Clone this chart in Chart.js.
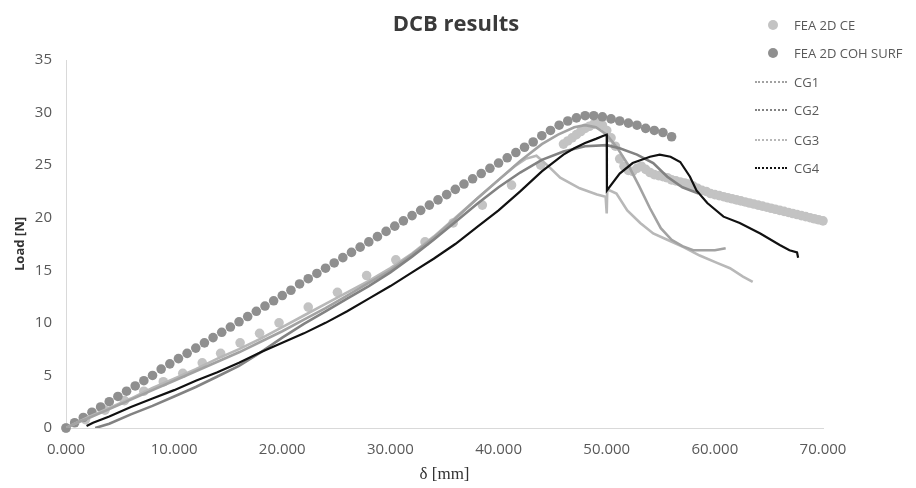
<!DOCTYPE html>
<html>
<head>
<meta charset="utf-8">
<script src="https://cdn.jsdelivr.net/npm/chart.js@4.4.1/dist/chart.umd.min.js"></script>
<style>
  html, body { margin: 0; padding: 0; background: #fff; }
  #wrap { position: relative; width: 916px; height: 488px; }
  #chart-title {
    position: absolute; left: 0; top: 7px; width: 912px; line-height: 30px;
    text-align: center; font: bold 22px "Open Sans", sans-serif; color: #3a3a3a;
  }
  .leg { position: absolute; left: 752px; height: 18px; line-height: 18px;
    font: 13px "Open Sans", sans-serif; color: #595959; white-space: nowrap; }
  .leg .dot { position: absolute; left: 16px; top: 4px; width: 10px; height: 10px; border-radius: 50%; }
  .leg .dash { position: absolute; left: 3px; top: 8px; width: 32px; border-top: 2px dotted; }
  .leg .txt { position: absolute; left: 42px; top: 0; }
</style>
</head>
<body>
<div id="wrap">
  <canvas id="c" width="916" height="488"></canvas>
  <div id="chart-title">DCB results</div>
  <div id="legend"></div>
</div>
<script>
// FEA 2D CE (sparse early, dense band after the peak)
const ceX = [0, 1.8, 3.6, 5.4, 7.2, 9.0, 10.8, 12.6, 14.3, 16.1, 17.9, 19.7, 22.4, 25.1, 27.8, 30.5, 33.2, 35.8, 38.5, 41.2, 43.9,
  46.0, 46.4, 46.8, 47.2, 47.6, 48.0, 48.4, 48.8, 49.2, 49.6, 50.0, 50.4, 50.8, 51.2, 51.6, 52.0, 52.4, 52.8, 53.2, 53.6,
  54.0, 54.4, 54.8, 55.2, 55.6, 56.0, 56.4, 56.8, 57.2, 57.6, 58.0, 58.4, 58.8, 59.2, 59.6, 60.0, 60.4, 60.8, 61.2, 61.6,
  62.0, 62.4, 62.8, 63.2, 63.6, 64.0, 64.4, 64.8, 65.2, 65.6, 66.0, 66.4, 66.8, 67.2, 67.6, 68.0, 68.4, 68.8, 69.2, 69.6, 70.0];
const ceLoad = [0, 0.8, 1.7, 2.6, 3.5, 4.4, 5.2, 6.2, 7.1, 8.1, 9.0, 10.0, 11.5, 12.9, 14.5, 16.0, 17.7, 19.5, 21.2, 23.1, 25.0,
  27.0, 27.3, 27.6, 27.9, 28.2, 28.5, 28.7, 28.9, 29.0, 28.8, 28.3, 27.6, 26.8, 25.6, 24.9, 24.5, 24.4, 24.7, 24.9, 24.6,
  24.3, 24.1, 24.0, 23.9, 23.8, 23.6, 23.5, 23.4, 23.3, 23.2, 23.0, 22.8, 22.6, 22.5, 22.3, 22.2, 22.1, 22.0, 21.9, 21.8,
  21.7, 21.6, 21.5, 21.4, 21.3, 21.2, 21.1, 21.0, 20.9, 20.8, 20.7, 20.6, 20.5, 20.4, 20.3, 20.2, 20.1, 20.0, 19.9, 19.8, 19.7];

// FEA 2D COH SURF
const cohX = [0, 0.8, 1.6, 2.4, 3.2, 4.0, 4.8, 5.6, 6.4, 7.2, 8.0, 8.8, 9.6, 10.4, 11.2, 12.0, 12.8, 13.6, 14.4, 15.2,
  16.0, 16.8, 17.6, 18.4, 19.2, 20.0, 20.8, 21.6, 22.4, 23.2, 24.0, 24.8, 25.6, 26.4, 27.2, 28.0, 28.8, 29.6, 30.4, 31.2,
  32.0, 32.8, 33.6, 34.4, 35.2, 36.0, 36.8, 37.6, 38.4, 39.2, 40.0, 40.8, 41.6, 42.4, 43.2, 44.0, 44.8, 45.6, 46.4, 47.2,
  48.0, 48.8, 49.6, 50.4, 51.2, 52.0, 52.8, 53.6, 54.4, 55.2, 56.0];
const cohLoad = [0, 0.5, 1.0, 1.5, 2.0, 2.5, 3.0, 3.5, 4.0, 4.5, 5.0, 5.6, 6.1, 6.6, 7.1, 7.6, 8.1, 8.6, 9.1, 9.6,
  10.1, 10.6, 11.1, 11.6, 12.1, 12.6, 13.1, 13.7, 14.2, 14.7, 15.2, 15.7, 16.2, 16.7, 17.2, 17.7, 18.2, 18.7, 19.2, 19.7,
  20.2, 20.7, 21.2, 21.7, 22.2, 22.7, 23.2, 23.7, 24.2, 24.7, 25.2, 25.7, 26.2, 26.7, 27.2, 27.8, 28.3, 28.8, 29.2, 29.5,
  29.7, 29.7, 29.6, 29.4, 29.2, 29.0, 28.8, 28.5, 28.3, 28.1, 27.7];

// experimental curves
const cg1X = [0, 1, 2, 4, 6, 8, 10, 12, 14, 16, 18, 20, 22, 24, 26, 28, 30, 32, 34, 36, 38, 40, 42, 44, 45.5, 47, 48, 49, 50,
  51, 52, 53, 54, 55, 56, 57, 58, 59, 60, 61];
const cg1Load = [0, 0.5, 0.9, 1.8, 2.7, 3.6, 4.5, 5.4, 6.3, 7.2, 8.2, 9.2, 10.3, 11.4, 12.6, 13.8, 15.0, 16.5, 18.1, 19.9, 21.8, 23.6, 25.4, 27.0, 27.9, 28.6, 28.8, 28.6, 27.9,
  26.6, 25.0, 23.0, 20.9, 19.0, 17.9, 17.3, 16.9, 16.9, 16.9, 17.1];

const cg2X = [2.7, 4, 6, 8, 10, 12, 14, 16, 18, 20, 22, 24, 26, 28, 30, 32, 34, 36, 38, 40, 42, 44, 46, 48, 50,
  51.2, 52.8, 54.3, 55.6, 57, 58.5];
const cg2Load = [0, 0.4, 1.3, 2.1, 3.0, 3.9, 4.9, 5.9, 7.2, 8.6, 9.9, 11.1, 12.3, 13.5, 14.8, 16.3, 17.9, 19.6, 21.3, 22.9, 24.3, 25.5, 26.3, 26.8, 26.9,
  26.6, 26.0, 25.2, 23.9, 22.9, 22.3];

const cg3X = [0, 1, 2, 4, 6, 8, 10, 12, 14, 16, 18, 20, 22, 24, 26, 28, 30, 32, 34, 36, 38, 40, 41.5, 42.5, 43.5, 44.5, 45.7,
  47.5, 49.1, 49.9, 50.0, 50.05, 50.9, 51.9, 53.1, 54.3, 55.6, 57.1, 58.6, 60.2, 61.4, 62.6, 63.5];
const cg3Load = [0, 0.5, 1.0, 1.9, 2.8, 3.8, 4.7, 5.6, 6.6, 7.5, 8.5, 9.6, 10.7, 11.8, 12.9, 14.0, 15.2, 16.6, 18.2, 20.0, 21.8, 23.6, 24.9, 25.6, 25.9, 25.0, 23.8,
  22.8, 22.2, 22.0, 20.4, 22.7, 22.3, 20.7, 19.5, 18.5, 17.9, 17.2, 16.4, 15.7, 15.2, 14.4, 13.9];

const cg4X = [1.9, 2.5, 4, 6, 8, 10, 12, 14, 16, 18, 20, 22, 24, 26, 28, 30, 32, 34, 36, 38, 40, 42, 44, 46, 47, 48, 49, 49.7,
  50.0, 50.02, 51.2, 52.4, 54, 54.9, 55.9, 56.8, 57.7, 58.3, 59.3, 60.8, 62.3, 64.2, 66, 66.9, 67.6, 67.7];
const cg4Load = [0.2, 0.5, 1.1, 2.0, 2.8, 3.6, 4.5, 5.3, 6.2, 7.2, 8.1, 9.0, 10.0, 11.1, 12.3, 13.5, 14.8, 16.1, 17.5, 19.1, 20.7, 22.5, 24.4, 26.0, 26.6, 27.1, 27.5, 27.8,
  27.9, 22.6, 24.2, 25.2, 25.8, 26.0, 25.8, 25.3, 23.9, 22.6, 21.4, 20.1, 19.5, 18.5, 17.4, 16.9, 16.7, 16.2];

const seriesNames = ["FEA 2D CE", "FEA 2D COH SURF", "CG1", "CG2", "CG3", "CG4"];
const seriesColors = ["#c3c3c3", "#8f8f8f", "#a2a2a2", "#828282", "#b8b8b8", "#111111"];

function pts(xs, ys) {
  return xs.map((x, i) => ({ x: x, y: ys[i] }));
}

function dotSet(i, xs, ys, order) {
  return {
    label: seriesNames[i], data: pts(xs, ys), showLine: false,
    pointRadius: 4.8, pointBackgroundColor: seriesColors[i], pointBorderWidth: 0,
    clip: false, order: order,
  };
}

function lineSet(i, xs, ys, order, width) {
  return {
    label: seriesNames[i], data: pts(xs, ys), showLine: true,
    borderColor: seriesColors[i], borderWidth: width, pointRadius: 0,
    tension: 0, order: order,
  };
}

new Chart(document.getElementById("c"), {
  type: "scatter",
  data: {
    datasets: [
      dotSet(0, ceX, ceLoad, 6),
      dotSet(1, cohX, cohLoad, 5),
      lineSet(2, cg1X, cg1Load, 3, 2.6),
      lineSet(3, cg2X, cg2Load, 2, 2.6),
      lineSet(4, cg3X, cg3Load, 4, 2.6),
      lineSet(5, cg4X, cg4Load, 1, 2.2),
    ],
  },
  options: {
    responsive: false,
    animation: false,
    devicePixelRatio: 1,
    layout: { padding: { top: 60, right: 93, bottom: 0, left: 0 } },
    plugins: { legend: { display: false }, tooltip: { enabled: false } },
    scales: {
      x: {
        type: "linear", min: 0, max: 70,
        grid: { display: false, drawTicks: false },
        border: { display: true, color: "#d9d9d9", width: 1 },
        ticks: {
          stepSize: 10, padding: 13, color: "#595959", maxRotation: 0,
          font: { family: "'Open Sans', sans-serif", size: 15 },
          callback: (v) => Number(v).toFixed(3),
        },
        title: {
          display: true, text: "δ [mm]", color: "#333",
          font: { family: "'Liberation Serif', serif", size: 17 },
          padding: { top: 0, bottom: 3 },
        },
        afterFit: (s) => { s.height = 60; },
      },
      y: {
        min: 0, max: 35,
        grid: { display: false, drawTicks: false },
        border: { display: true, color: "#d9d9d9", width: 1 },
        ticks: {
          stepSize: 5, padding: 14, color: "#595959",
          font: { family: "'Open Sans', sans-serif", size: 15 },
        },
        title: {
          display: true, text: "Load [N]", color: "#333",
          font: { family: "'Open Sans', sans-serif", size: 13, weight: "bold" },
          padding: { top: 12, bottom: 0 },
        },
        afterFit: (s) => { s.width = 66; },
      },
    },
  },
});

// legend in the top right corner, over the plot area like the original
const legendRows = [25, 53, 82, 110, 140, 168];
const legend = document.getElementById("legend");
seriesNames.forEach((name, i) => {
  const row = document.createElement("div");
  row.className = "leg";
  row.style.top = (legendRows[i] - 9) + "px";
  const mark = document.createElement("span");
  if (i < 2) {
    mark.className = "dot";
    mark.style.background = seriesColors[i];
  } else {
    mark.className = "dash";
    mark.style.borderTopColor = seriesColors[i];
  }
  const txt = document.createElement("span");
  txt.className = "txt";
  txt.textContent = name;
  row.appendChild(mark);
  row.appendChild(txt);
  legend.appendChild(row);
});
</script>
</body>
</html>
